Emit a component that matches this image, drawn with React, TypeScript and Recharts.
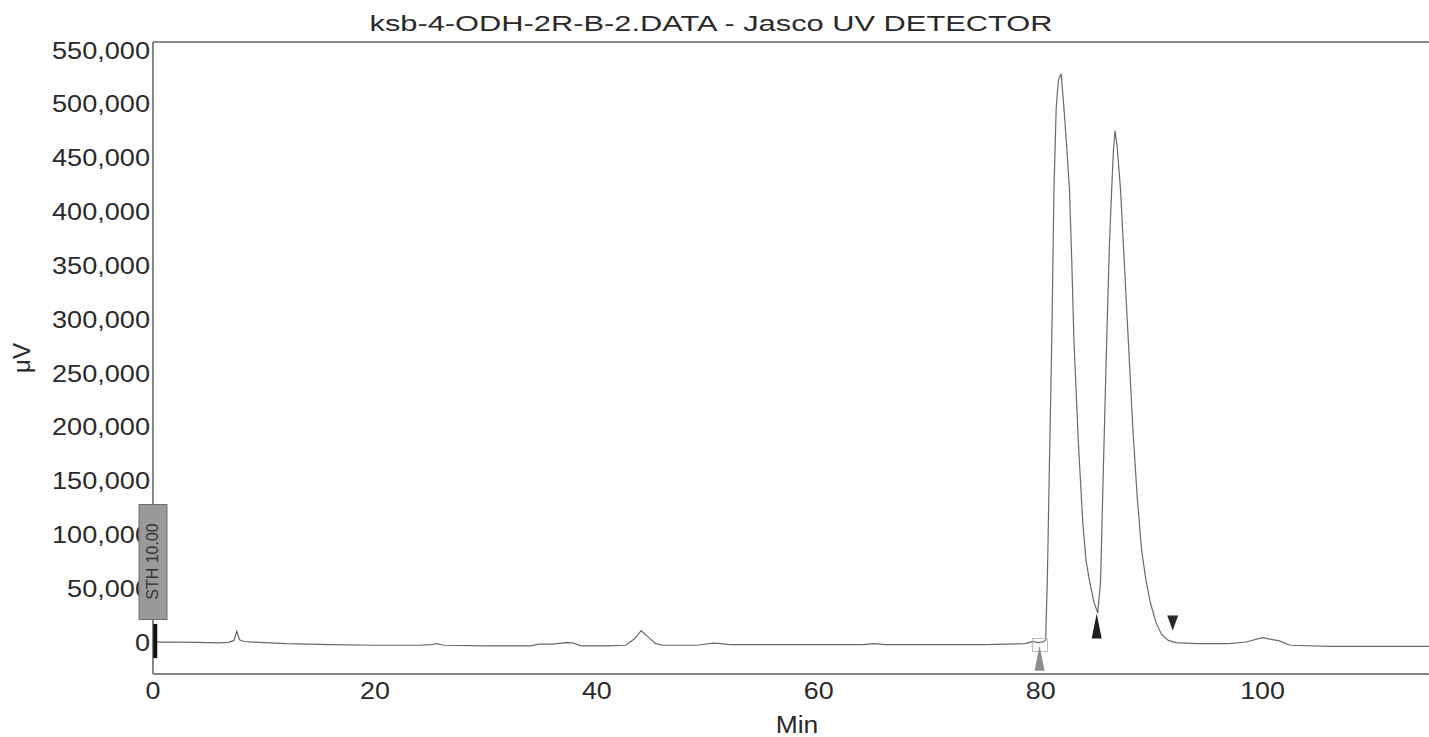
import React from 'react';
import { LineChart, Line, XAxis, YAxis, ReferenceLine, ReferenceDot } from 'recharts';

// retention time (min) and detector signal (µV)
const times = [
  0, 2, 4, 6, 6.8, 7.3, 7.55, 7.8, 8.2, 9, 12, 16, 20, 24, 25, 25.6, 26.2, 30, 34, 34.8, 36, 37.2, 37.8, 38.6,
  41, 42.6, 43.4, 44.0, 44.6, 45.3, 46, 49, 50.5, 51.2, 52, 56, 60, 64, 65, 66, 70, 75, 78.6, 79.3, 79.8, 80.3,
  80.45, 80.6, 80.8, 81.0, 81.2, 81.4, 81.6, 81.85, 82.1, 82.35, 82.6, 82.8, 83.0, 83.4, 83.8, 84.1, 84.4, 84.8,
  85.15, 85.4, 85.65, 85.95, 86.2, 86.4, 86.55, 86.7, 86.9, 87.2, 87.55, 87.9, 88.3, 88.7, 89.1, 89.5, 89.9,
  90.4, 90.9, 91.5, 92.2, 94, 97, 98.5, 100, 101.5, 102.5, 106, 110, 115,
];
const microvolts = [
  0, 0, -300, -800, -300, 1500, 10000, 2000, 500, 0, -1500, -2500, -3000, -3000, -2500, -1500, -3000, -3500, -3500,
  -2000, -2000, -500, -800, -3500, -3500, -3000, 3000, 10500, 5000, -1500, -3000, -3000, -1000, -1500, -2500, -2500,
  -2500, -2500, -1500, -2500, -2500, -2500, -1500, 500, -500, 500,
  2000, 57000, 170000, 280000, 420000, 496000, 522000, 528000, 496000, 460000, 420000, 355000, 280000, 185000,
  110000, 75000, 57000, 37000,
  27000, 57000, 160000, 280000, 370000, 420000, 455000, 475000, 460000, 420000, 350000, 280000, 200000, 135000,
  85000, 57000, 36000,
  18000, 7000, 1500, -500, -1500, -1500, 0, 4000, 1000, -3000, -4000, -4000, -4000,
];

const xTicks = [0, 20, 40, 60, 80, 100];
const yTicks = [0, 50000, 100000, 150000, 200000, 250000, 300000, 350000, 400000, 450000, 500000, 550000];

// integration markers: [time, µV]
const startMark = [79.9, -15000];
const valleyMark = [85.05, 15000];
const endMark = [91.9, 17700];
const sthMark = [0, 74800];
const zeroMark = [0.2, 1000];
const boxMark = [79.9, -2300];

const data = times.map((t, i) => ({ t, v: microvolts[i] }));

const FONT = '"Liberation Sans", Arial, sans-serif';

const YTick = (props: any) => {
  const { x, y, payload } = props;
  return (
    <text transform={`translate(${x},${y}) scale(1.13,1)`} textAnchor="end" dy="0.36em" fontSize={24} fontFamily={FONT} fill="#2a2a2a">
      {payload.value.toLocaleString('en-US')}
    </text>
  );
};

const XTick = (props: any) => {
  const { x, y, payload } = props;
  return (
    <text transform={`translate(${x},${y}) scale(1.12,1)`} textAnchor="middle" dy={25} fontSize={24} fontFamily={FONT} fill="#2a2a2a">
      {payload.value}
    </text>
  );
};

const triUp = (fill: string, w: number, h: number) => (p: any) => (
  <path d={`M${p.cx},${p.cy - h / 2} L${p.cx + w / 2},${p.cy + h / 2} L${p.cx - w / 2},${p.cy + h / 2} Z`} fill={fill} />
);
const triDown = (fill: string, w: number, h: number) => (p: any) => (
  <path d={`M${p.cx - w / 2},${p.cy - h / 2} L${p.cx + w / 2},${p.cy - h / 2} L${p.cx},${p.cy + h / 2} Z`} fill={fill} />
);

const sthShape = (p: any) => (
  <g>
    <rect x={p.cx - 14} y={p.cy - 57} width={28} height={115} fill="#9a9a9a" stroke="#6e6e6e" strokeWidth={1} />
    <text
      x={p.cx}
      y={p.cy}
      transform={`rotate(-90, ${p.cx}, ${p.cy})`}
      textAnchor="middle"
      dominantBaseline="central"
      fontSize={16}
      fontFamily={FONT}
      fill="#333"
    >
      STH 10.00
    </text>
  </g>
);

const zeroShape = (p: any) => <rect x={p.cx - 2} y={p.cy - 17} width={4} height={34} fill="#111" />;
const boxShape = (p: any) => (
  <rect x={p.cx - 7} y={p.cy - 6} width={15} height={13} fill="none" stroke="#bbb" strokeWidth={1} />
);

export default function App() {
  return (
    <div style={{ position: 'absolute', left: 0, top: 0, width: 1429, height: 737, background: '#fff' }}>
      <LineChart width={1429} height={737} data={data} margin={{ top: 42, right: 0, bottom: 0, left: 0 }}>
        <XAxis
          dataKey="t"
          type="number"
          domain={[0, 115]}
          ticks={xTicks}
          allowDataOverflow
          height={63}
          tickSize={0}
          tickMargin={0}
          tick={<XTick />}
          axisLine={{ stroke: '#858585', strokeWidth: 2 }}
          label={{
            content: () => (
              <text x={797} y={733} textAnchor="middle" fontSize={24} fontFamily={FONT} fill="#2a2a2a" transform="translate(797,0) scale(1.1,1) translate(-797,0)">
                Min
              </text>
            ),
          }}
        />
        <YAxis
          type="number"
          domain={[-29700, 557400]}
          ticks={yTicks}
          allowDataOverflow
          width={153}
          tickSize={0}
          tickMargin={3}
          tick={<YTick />}
          axisLine={{ stroke: '#858585', strokeWidth: 2 }}
          label={{
            content: () => (
              <text x={21} y={358} transform="rotate(-90, 21, 358)" textAnchor="middle" dominantBaseline="central" fontSize={24} fontFamily={FONT} fill="#2a2a2a">
                μV
              </text>
            ),
          }}
        />
        <ReferenceLine y={557400} stroke="#8a8a8a" strokeWidth={2} ifOverflow="visible" />
        <Line dataKey="v" type="linear" stroke="#6a6a6a" strokeWidth={1.2} dot={false} isAnimationActive={false} />
        <ReferenceDot x={boxMark[0]} y={boxMark[1]} r={1} ifOverflow="visible" shape={boxShape} />
        <ReferenceDot x={startMark[0]} y={startMark[1]} r={1} ifOverflow="visible" shape={triUp('#8c8c8c', 10, 25)} />
        <ReferenceDot x={valleyMark[0]} y={valleyMark[1]} r={1} ifOverflow="visible" shape={triUp('#1e1e1e', 10, 25)} />
        <ReferenceDot x={endMark[0]} y={endMark[1]} r={1} ifOverflow="visible" shape={triDown('#2a2a2a', 11, 15)} />
        <ReferenceDot x={zeroMark[0]} y={zeroMark[1]} r={1} ifOverflow="visible" shape={zeroShape} zIndex={2000} />
        <ReferenceDot x={sthMark[0]} y={sthMark[1]} r={1} ifOverflow="visible" shape={sthShape} zIndex={2000} />
      </LineChart>
      <svg width={1429} height={42} style={{ position: 'absolute', left: 0, top: 0 }}>
        <text x={711} y={31} textAnchor="middle" fontSize={22} fontFamily={FONT} fill="#2a2a2a" textLength={683} lengthAdjust="spacingAndGlyphs">
          ksb-4-ODH-2R-B-2.DATA - Jasco UV DETECTOR
        </text>
      </svg>
    </div>
  );
}
